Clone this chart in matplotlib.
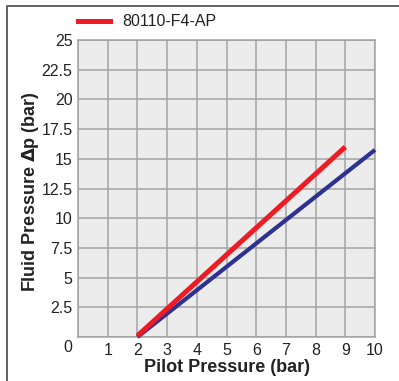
import matplotlib.pyplot as plt
from matplotlib.lines import Line2D

# data
pilot_red = [2, 9]
fluid_red = [0.1, 16]
pilot_blue = [2, 10]
fluid_blue = [0, 15.75]
series_label = "80110-F4-AP"
xticks = [1, 2, 3, 4, 5, 6, 7, 8, 9, 10]
yticks = [2.5, 5, 7.5, 10, 12.5, 15, 17.5, 20, 22.5, 25]

plt.rcParams["font.family"] = ["Liberation Sans", "DejaVu Sans"]

fig = plt.figure(figsize=(3.99, 3.81), dpi=100)
ax = fig.add_axes([78 / 399, 44 / 381, 297 / 399, 297 / 381])

ax.set_facecolor("#ececec")
ax.set_xlim(0, 10)
ax.set_ylim(0, 25)
ax.set_xticks(range(0, 11))
ax.set_xticklabels([""] + [str(t) for t in xticks])
ax.set_yticks([0] + yticks)
ax.set_yticklabels([""] + [f"{t:g}" for t in yticks])
ax.grid(True, color="#a3a3a3", linewidth=1.1)
ax.set_axisbelow(True)
for s in ax.spines.values():
    s.set_color("#a3a3a3")
    s.set_linewidth(1.1)
ax.tick_params(length=0, labelsize=11.5, colors="#222222", pad=4)

ax.plot(pilot_blue, fluid_blue, color="#2e3192", linewidth=3.0,
        solid_capstyle="butt", clip_on=False, zorder=3)
ax.plot(pilot_red, fluid_red, color="#ed1c24", linewidth=3.6,
        solid_capstyle="butt", clip_on=False, zorder=4)

fig.text(68 / 399, 1 - 347 / 381, "0", fontsize=11.5, color="#222222",
         ha="center", va="center")

# axis titles
fig.text(227 / 399, 1 - 368 / 381, "Pilot Pressure (bar)", fontsize=13,
         fontweight="bold", color="#222222", ha="center", va="center")
fig.text(31 / 399, 1 - 192 / 381, "Fluid Pressure $\\mathbf{\\Delta}$p (bar)",
         fontsize=13, fontweight="bold", color="#222222", ha="center",
         va="center", rotation=90)

# legend entry above the plot
fig.add_artist(Line2D([78 / 399, 110 / 399], [1 - 21 / 381, 1 - 21 / 381],
                      color="#ed1c24", linewidth=3.6))
fig.text(122 / 399, 1 - 21 / 381, series_label, fontsize=11.5,
         color="#222222", va="center", ha="left")

# dark frame around the figure (top and left)
fig.add_artist(Line2D([7 / 399, 7 / 399, 1], [0, 1 - 6 / 381, 1 - 6 / 381],
                      color="#555555", linewidth=1.3))

fig.savefig("out.png", dpi=100)
